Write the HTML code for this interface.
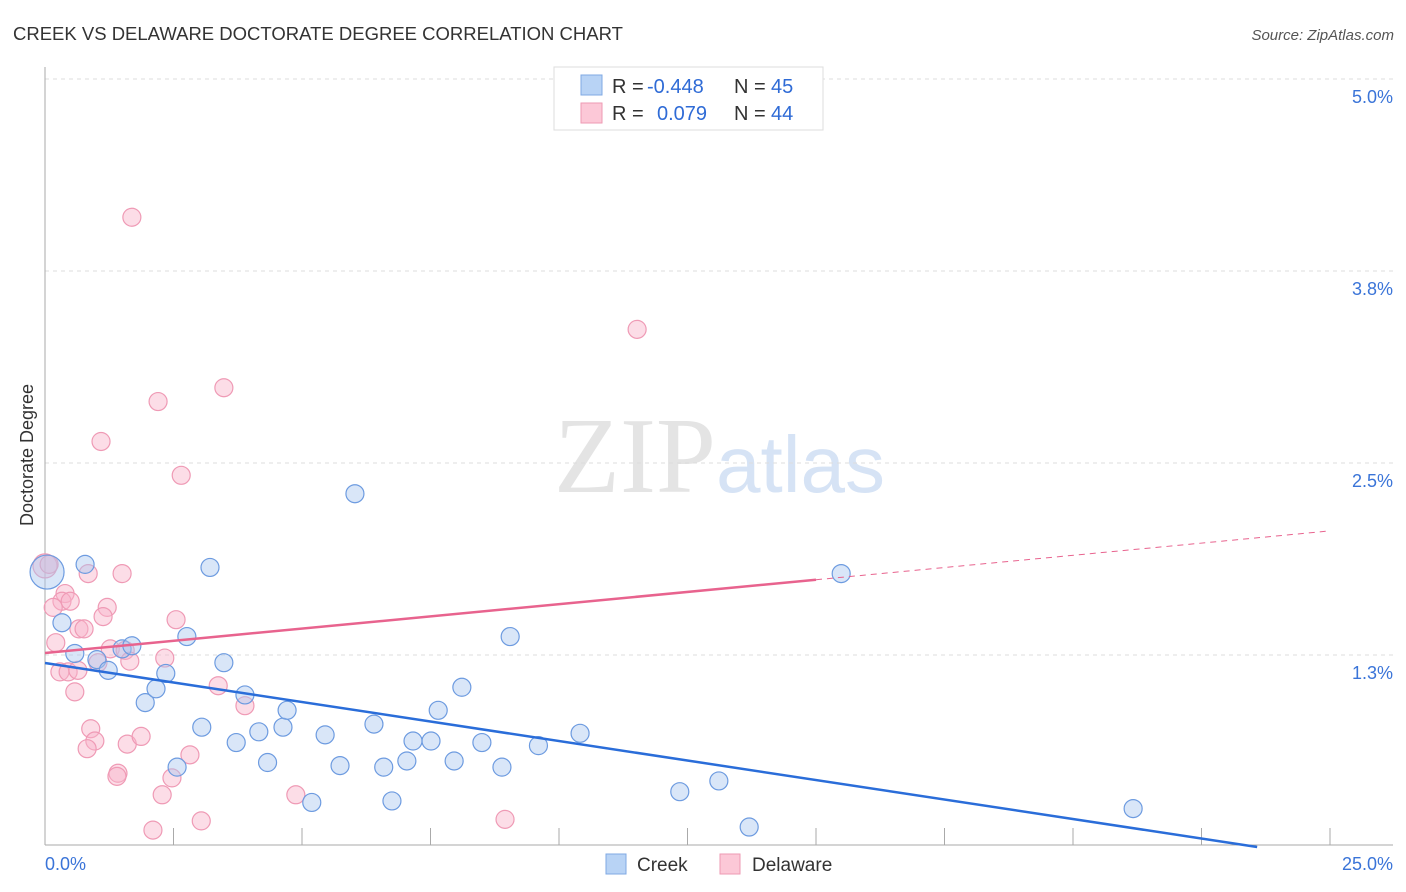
<!DOCTYPE html>
<html><head><meta charset="utf-8"><style>
body{margin:0;background:#fff;font-family:"Liberation Sans",sans-serif}
</style></head><body>
<svg id="c" width="1406" height="892" xmlns="http://www.w3.org/2000/svg" style="position:absolute;left:0;top:0">
<text x="13" y="40" font-size="18.5" fill="#333">CREEK VS DELAWARE DOCTORATE DEGREE CORRELATION CHART</text>
<text x="1394" y="40" font-size="15" fill="#555" text-anchor="end" font-style="italic">Source: ZipAtlas.com</text>
<text x="716" y="492" font-size="108" fill="#e4e4e4" text-anchor="end" font-family="Liberation Serif,serif">ZIP</text>
<text x="716" y="492" font-size="80" fill="#d6e3f5">atlas</text>
<text transform="translate(33,455) rotate(-90)" font-size="18" fill="#333" text-anchor="middle">Doctorate Degree</text>
<g id="grid"></g><g id="pts"></g><g id="lines"></g>
<g>
<rect x="554" y="67" width="269" height="63" fill="#fff" stroke="#ddd"/>
<rect x="581" y="75" width="21" height="20" fill="#b8d3f5" stroke="#7fa8e3"/>
<rect x="581" y="103" width="21" height="20" fill="#fcc8d7" stroke="#ee9ab3"/>
<text x="612" y="93" font-size="20" fill="#333">R =</text><text x="647" y="93" font-size="20" fill="#2f6bd6">-0.448</text>
<text x="734" y="93" font-size="20" fill="#333">N =</text><text x="771" y="93" font-size="20" fill="#2f6bd6">45</text>
<text x="612" y="120" font-size="20" fill="#333">R =</text><text x="657" y="120" font-size="20" fill="#2f6bd6">0.079</text>
<text x="734" y="120" font-size="20" fill="#333">N =</text><text x="771" y="120" font-size="20" fill="#2f6bd6">44</text>
</g>
<g>
<rect x="606" y="854" width="20" height="20" fill="#b8d3f5" stroke="#7fa8e3"/>
<text x="637" y="871" font-size="19" fill="#333">Creek</text>
<rect x="720" y="854" width="20" height="20" fill="#fcc8d7" stroke="#ee9ab3"/>
<text x="752" y="871" font-size="19" fill="#333">Delaware</text>
</g>
</svg>
<script>
const xTicks=[0,2.5,5,7.5,10,12.5,15,17.5,20,22.5,25];
const yTicks=[5.0,3.75,2.5,1.25];
const yTickLabels=["5.0%","3.8%","2.5%","1.3%"];
const creekX=[0.04,0.78,0.33,0.58,1.01,1.23,1.5,1.69,1.95,2.16,2.35,2.76,3.21,3.48,2.57,3.05,3.72,3.89,4.16,4.33,4.63,4.71,5.19,5.45,5.74,6.03,6.4,6.59,6.75,7.04,7.16,7.51,7.65,7.96,8.11,8.5,8.89,9.05,9.6,10.41,12.35,13.11,13.7,15.49,21.17];
const creekY=[1.79,1.84,1.46,1.26,1.22,1.15,1.29,1.31,0.94,1.03,1.13,1.37,1.82,1.2,0.52,0.78,0.68,0.99,0.75,0.55,0.78,0.89,0.29,0.73,0.53,2.3,0.8,0.52,0.3,0.56,0.69,0.69,0.89,0.56,1.04,0.68,0.52,1.37,0.66,0.74,0.36,0.43,0.13,1.78,0.25];
const delX=[1.69,11.52,3.48,2.2,1.09,2.65,0,0.08,0.84,1.5,0.39,0.33,0.49,0.16,1.21,1.13,2.55,0.66,0.76,0.21,1.27,1.56,1.65,1.03,2.33,0.29,0.45,0.64,3.37,0.58,3.89,0.89,0.97,1.6,1.87,0.82,2.82,1.42,1.4,2.47,2.28,4.88,3.04,2.1,8.95];
const delY=[4.1,3.37,2.99,2.9,2.64,2.42,1.83,1.84,1.78,1.78,1.65,1.6,1.6,1.56,1.56,1.5,1.48,1.42,1.42,1.33,1.29,1.28,1.21,1.2,1.23,1.14,1.14,1.15,1.05,1.01,0.92,0.77,0.69,0.67,0.72,0.64,0.6,0.48,0.46,0.45,0.34,0.34,0.17,0.11,0.18];
const creekFit=[1.198,-0.0508];
const delFit=[1.263,0.0318];
const X=v=>45+v*51.4, Y=v=>79+(5-v)*153.6;
const NS="http://www.w3.org/2000/svg";
function mk(t,a,p){const e=document.createElementNS(NS,t);for(const k in a)e.setAttribute(k,a[k]);p.appendChild(e);return e;}
const grid=document.getElementById('grid');
yTicks.forEach((v,i)=>{
 const l=mk('line',{x1:45,x2:1393,y1:Y(v),y2:Y(v),stroke:'#ddd','stroke-dasharray':'4,4'},grid);
 
 
 const t=mk('text',{x:1393,y:Y(v)+24,'font-size':18,fill:'#3a74d8','text-anchor':'end'},grid);t.textContent=yTickLabels[i];
 
 
});
const ax=mk('line',{x1:45,x2:45,y1:67,y2:845,stroke:'#aaa'},grid);


const bx=mk('line',{x1:45,x2:1393,y1:845,y2:845,stroke:'#aaa'},grid);


xTicks.forEach(v=>{const l=mk('line',{x1:X(v),x2:X(v),y1:828,y2:845,stroke:'#aaa'},grid);
 
 });
[[0,"0.0%","start",45],[25,"25.0%","end",1393]].forEach(d=>{const t=mk('text',{x:d[3],y:870,'font-size':18,fill:'#3a74d8','text-anchor':d[2]},grid);t.textContent=d[1];
 
 });
const pts=document.getElementById('pts');
delX.forEach((x,i)=>{const c=mk('circle',{cx:X(x),cy:Y(delY[i]),r:(i==6?12:9),fill:'rgba(248,180,202,0.45)',stroke:'#ef9ab5','stroke-width':1.2},pts);
 
 });
creekX.forEach((x,i)=>{const c=mk('circle',{cx:X(x),cy:Y(creekY[i]),r:i==0?17:9,fill:'rgba(170,200,240,0.45)',stroke:'#6d9be0','stroke-width':1.2},pts);
 
 });
const lines=document.getElementById('lines');
const cEnd=-creekFit[0]/creekFit[1];
const bl=mk('line',{x1:X(0),y1:Y(creekFit[0]),x2:X(cEnd),y2:Y(0),stroke:'#2a6dd9','stroke-width':2.5},lines);


const pl=mk('line',{x1:X(0),y1:Y(delFit[0]),x2:X(15),y2:Y(delFit[0]+15*delFit[1]),stroke:'#e8638e','stroke-width':2.5},lines);


const pd=mk('line',{x1:X(15),y1:Y(delFit[0]+15*delFit[1]),x2:X(25),y2:Y(delFit[0]+25*delFit[1]),stroke:'#e8638e','stroke-width':1,'stroke-dasharray':'6,5'},lines);


</script>
</body></html>
